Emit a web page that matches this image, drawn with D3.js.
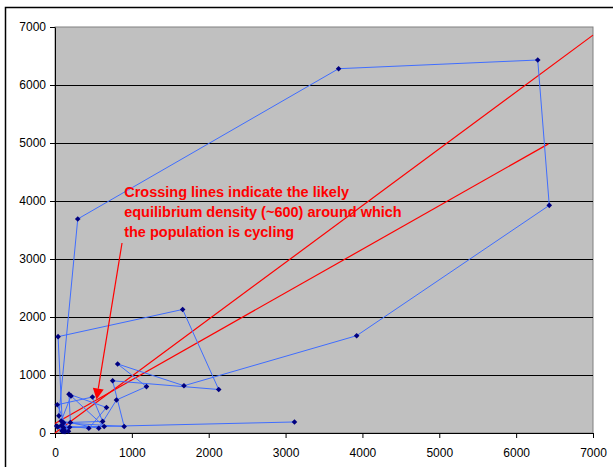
<!DOCTYPE html>
<html>
<head>
<meta charset="utf-8">
<script src="https://cdn.jsdelivr.net/npm/d3@7"></script>
<style>
  html, body { margin: 0; padding: 0; background: #fff; }
  svg { display: block; }
</style>
</head>
<body>
<svg id="chart" width="613" height="467"></svg>
<script>
// ---- data ----
// population time series N(t); the chart plots N(t) on x against N(t+1) on y
const series = [3116, 190, 100, 40, 1661, 2130, 750, 900, 112, 175, 30, 487, 620, 200, 182, 670, 440, 81, 130, 22, 120, 50, 296, 3690, 6281, 6431, 3925, 1678, 815, 1190, 800, 570, 81, 208, 640, 112, 90, 35, 105, 28];
const xTicks = [0, 1000, 2000, 3000, 4000, 5000, 6000, 7000];
const yTicks = [0, 1000, 2000, 3000, 4000, 5000, 6000, 7000];
// red reference lines: [x0, y0, x1, y1]
const line1 = [0, 0, 7000, 6860];
const line2 = [0, 165, 6420, 4985];
const noteLines = ["Crossing lines indicate the likely", "equilibrium density (~600) around which", "the population is cycling"];
const noteAnchor = [900, 4075];
const arrowFrom = [872, 3276];
const arrowTo = [540, 578];

// ---- layout ----
const svg = d3.select("#chart");
const x = d3.scaleLinear().domain([0, 7000]).range([55, 593]);
const y = d3.scaleLinear().domain([0, 7000]).range([433, 27]);
const font = "'Liberation Sans', Arial, sans-serif";

// outer chart border
svg.append("rect").attr("x", 5.5).attr("y", 7.5).attr("width", 700).attr("height", 700)
  .attr("fill", "#fff").attr("stroke", "#000").attr("stroke-width", 1.5);

// plot area
svg.append("rect").attr("x", x(0)).attr("y", y(7000))
  .attr("width", x(7000) - x(0)).attr("height", y(0) - y(7000))
  .attr("fill", "#c0c0c0").attr("stroke", "#808080").attr("stroke-width", 1);

// gridlines
svg.append("g").selectAll("line").data(yTicks.filter(d => d > 0 && d < 7000)).join("line")
  .attr("x1", x(0)).attr("x2", x(7000))
  .attr("y1", d => Math.round(y(d)) + 0.5).attr("y2", d => Math.round(y(d)) + 0.5)
  .attr("stroke", "#000").attr("stroke-width", 1);

// axes
const gx = svg.append("g").attr("transform", `translate(0,${y(0)})`)
  .call(d3.axisBottom(x).tickValues(xTicks).tickFormat(d3.format("d")).tickSize(5).tickSizeOuter(0).tickPadding(10));
const gy = svg.append("g").attr("transform", `translate(${x(0)},0)`)
  .call(d3.axisLeft(y).tickValues(yTicks).tickFormat(d3.format("d")).tickSize(5).tickSizeOuter(0).tickPadding(4));
[gx, gy].forEach(g => {
  g.selectAll("text").attr("font-family", font).attr("font-size", 12).attr("fill", "#000");
  g.selectAll("line").attr("stroke", "#000");
  g.select(".domain").attr("stroke", "#000");
});

// red lines
[line1, line2].forEach(l => {
  svg.append("line")
    .attr("x1", x(l[0])).attr("y1", y(l[1])).attr("x2", x(l[2])).attr("y2", y(l[3]))
    .attr("stroke", "#ff0000").attr("stroke-width", 1.2);
});

// phase-plot points
const pts = series.slice(0, -1).map((v, i) => [v, series[i + 1]]);
svg.append("path").datum(pts)
  .attr("d", d3.line().x(d => x(d[0])).y(d => y(d[1])))
  .attr("fill", "none").attr("stroke", "#3f6dff").attr("stroke-width", 1);
svg.append("g").selectAll("path").data(pts).join("path")
  .attr("transform", d => `translate(${x(d[0])},${y(d[1])})`)
  .attr("d", "M0,-2.8L2.8,0L0,2.8L-2.8,0Z")
  .attr("fill", "#000080");

// annotation text
svg.append("g").selectAll("text").data(noteLines).join("text")
  .attr("x", x(noteAnchor[0])).attr("y", (d, i) => y(noteAnchor[1]) + i * 20)
  .attr("font-family", font).attr("font-weight", "bold").attr("font-size", 14.5)
  .attr("fill", "#ff0000").text(d => d);

// arrow
const ax0 = x(arrowFrom[0]), ay0 = y(arrowFrom[1]);
const ax1 = x(arrowTo[0]), ay1 = y(arrowTo[1]);
const ang = Math.atan2(ay1 - ay0, ax1 - ax0);
const headLen = 11, headW = 5.5;
const bx = ax1 - headLen * Math.cos(ang), by = ay1 - headLen * Math.sin(ang);
svg.append("line").attr("x1", ax0).attr("y1", ay0).attr("x2", bx).attr("y2", by)
  .attr("stroke", "#ff0000").attr("stroke-width", 1.2);
svg.append("path")
  .attr("d", `M${ax1},${ay1}L${bx - headW * Math.sin(ang)},${by + headW * Math.cos(ang)}L${bx + headW * Math.sin(ang)},${by - headW * Math.cos(ang)}Z`)
  .attr("fill", "#ff0000");
</script>
</body>
</html>
